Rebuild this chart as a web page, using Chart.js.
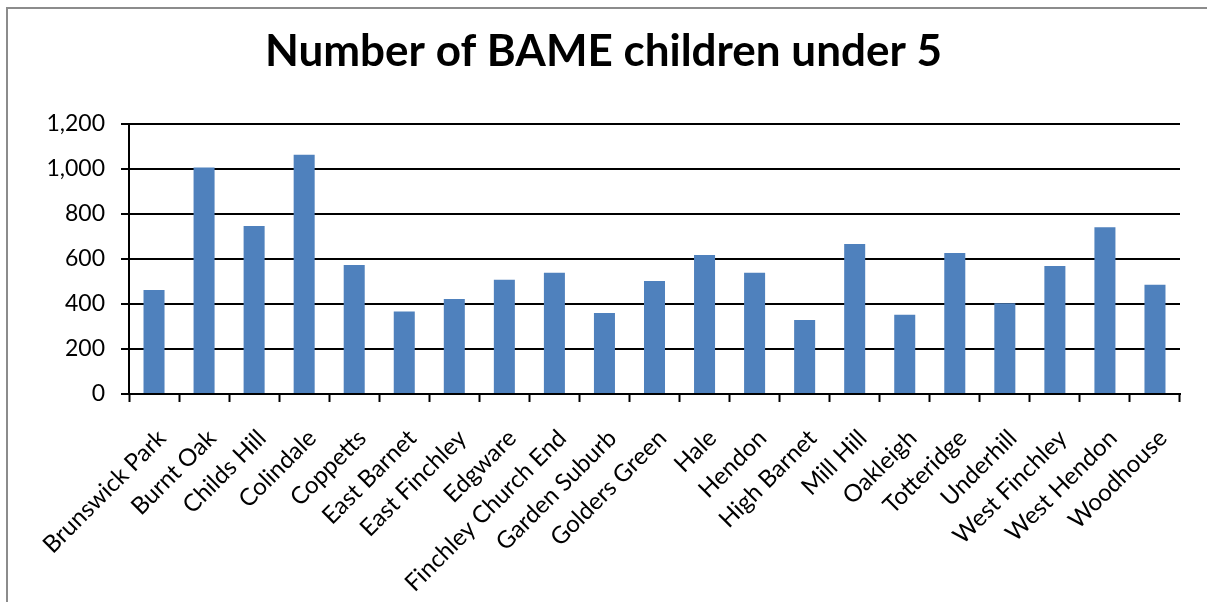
<!DOCTYPE html>
<html>
<head>
<meta charset="utf-8">
<script src="https://cdn.jsdelivr.net/npm/chart.js@4/dist/chart.umd.min.js"></script>
<style>
  html, body { margin: 0; padding: 0; background: #fff; }
  #wrap { position: relative; width: 1207px; height: 602px; }
  #frame {
    position: absolute; left: 6px; top: 7px; right: 0; bottom: 0;
    border-left: 2px solid #8c8c8c; border-top: 2px solid #8c8c8c;
    pointer-events: none;
  }
</style>
</head>
<body>
<div id="wrap">
  <canvas id="myChart" width="1207" height="602"></canvas>
  <div id="frame"></div>
</div>
<script>
/* DATA */

var wards = ['Brunswick Park', 'Burnt Oak', 'Childs Hill', 'Colindale', 'Coppetts',
  'East Barnet', 'East Finchley', 'Edgware', 'Finchley Church End', 'Garden Suburb',
  'Golders Green', 'Hale', 'Hendon', 'High Barnet', 'Mill Hill', 'Oakleigh',
  'Totteridge', 'Underhill', 'West Finchley', 'West Hendon', 'Woodhouse'];

var children = [462, 1006, 746, 1062, 573, 366, 422, 507, 538, 360,
  502, 617, 538, 329, 666, 352, 626, 403, 569, 741, 485];

var yTicks = [0, 200, 400, 600, 800, 1000, 1200];

/* CHART */

var FONT = "Lato, 'Open Sans', sans-serif";

var ctx = document.getElementById('myChart').getContext('2d');

var chart = new Chart(ctx, {
  type: 'bar',
  data: {
    labels: wards,
    datasets: [{
      label: 'BAME children under 5',
      backgroundColor: '#4F81BD',
      borderWidth: 0,
      data: children,
      barPercentage: 0.42,
      categoryPercentage: 1
    }]
  },
  options: {
    responsive: false,
    animation: false,
    // equal side padding keeps the title centred on the canvas
    layout: { padding: { left: 27, right: 27, top: 0, bottom: 0 } },
    plugins: {
      legend: { display: false },
      tooltip: { enabled: false },
      title: {
        display: true,
        text: 'Number of BAME children under 5',
        color: '#000',
        font: { family: FONT, size: 44, weight: 'bold', lineHeight: 1.2 },
        padding: { top: 25, bottom: 46 }
      }
    },
    scales: {
      x: {
        afterFit: function(scale) { scale.height = 208; },
        border: { color: '#000', width: 2 },
        grid: {
          offset: true,
          drawOnChartArea: false,
          drawTicks: true,
          tickLength: 8,
          tickWidth: 2,
          tickColor: '#000'
        },
        ticks: {
          color: '#000',
          font: { family: FONT, size: 24 },
          minRotation: 45,
          maxRotation: 45,
          autoSkip: false,
          padding: 22,
          labelOffset: 8
        }
      },
      y: {
        min: 0,
        max: 1200,
        afterFit: function(scale) { scale.width = 102; },
        afterBuildTicks: function(scale) {
          scale.ticks = yTicks.map(function(v) { return { value: v }; });
        },
        border: { color: '#000', width: 2 },
        grid: {
          color: '#000',
          lineWidth: 2,
          drawTicks: true,
          tickLength: 8,
          tickColor: '#000'
        },
        ticks: {
          color: '#000',
          font: { family: FONT, size: 23 },
          padding: 16,
          callback: function(v) { return v.toLocaleString('en-GB'); }
        }
      }
    }
  }
});
</script>
</body>
</html>
